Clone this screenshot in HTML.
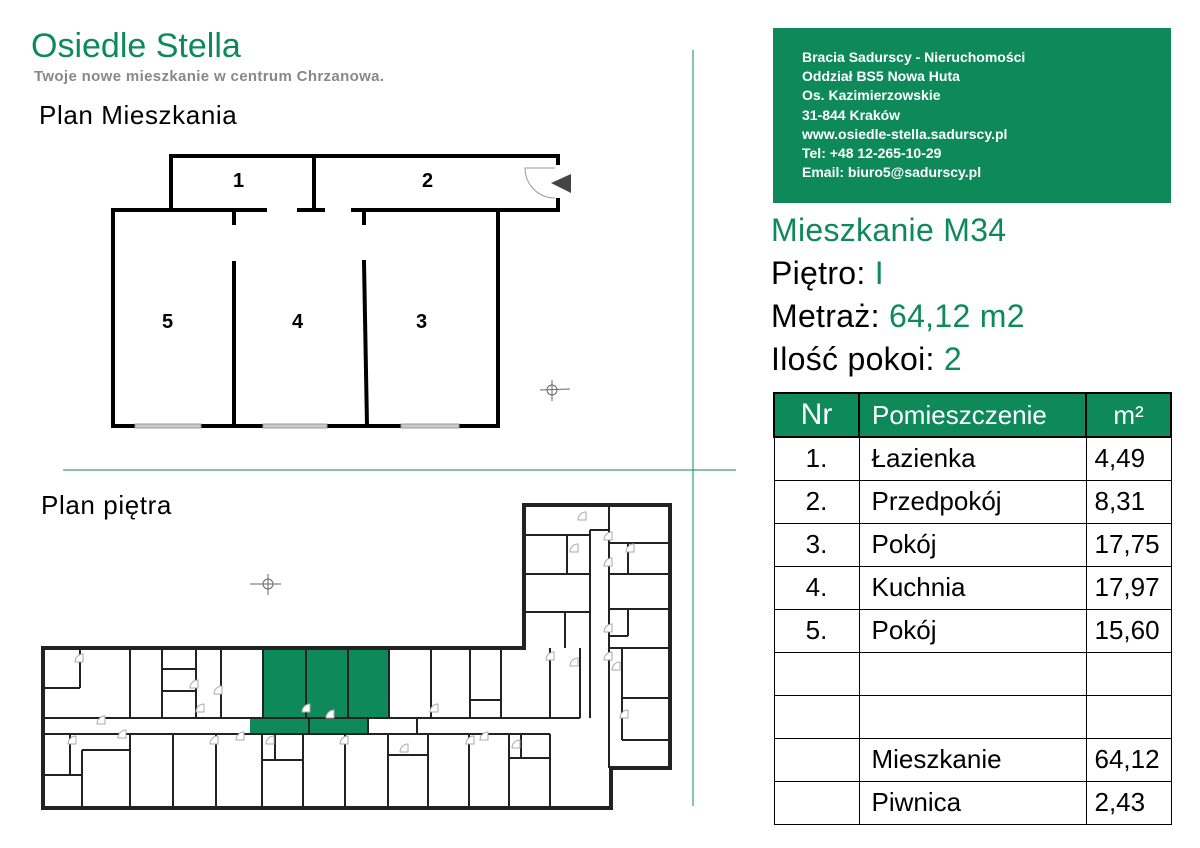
<!DOCTYPE html>
<html><head><meta charset="utf-8"><style>
body{margin:0;width:1200px;height:848px;background:#fff;position:relative;overflow:hidden;font-family:"Liberation Sans",sans-serif}
.t{position:absolute;white-space:nowrap}
.g{color:#0e8a5a}
.n{font-weight:bold}
</style></head><body>
<svg width="1200" height="848" style="position:absolute;left:0;top:0">
<line x1="693" y1="50" x2="693" y2="806" stroke="#0e8a5a" stroke-width="1"/>
<line x1="63" y1="470" x2="736" y2="470" stroke="#0e8a5a" stroke-width="1"/>
<g stroke="#000" stroke-width="4" fill="none" stroke-linecap="square">
<path d="M171,210 V156 H558 V163"/>
<line x1="558" y1="200" x2="558" y2="210"/>
<line x1="314" y1="156" x2="314" y2="210"/>
<path d="M265,210 H113 V426 H498 V210 H353"/>
<line x1="299" y1="210" x2="323" y2="210"/>
<line x1="498" y1="210" x2="558" y2="210"/>
<line x1="234" y1="210" x2="234" y2="223"/>
<line x1="234" y1="263" x2="234" y2="426"/>
<line x1="364" y1="210" x2="364" y2="223"/>
<line x1="364" y1="262" x2="367" y2="426"/>
</g>
<g fill="#ccc" stroke="#999" stroke-width="1">
<rect x="135" y="424" width="66" height="4"/><rect x="263" y="424" width="64" height="4"/><rect x="401" y="424" width="58" height="4"/>
</g>
<path d="M555,168 H525 A30,30 0 0 0 555,198" fill="none" stroke="#999" stroke-width="1"/>
<polygon points="551,183 571,174 571,193" fill="#444"/>
<g stroke="#666" stroke-width="1" fill="none"><circle cx="552" cy="390" r="5"/><line x1="540" y1="390" x2="570" y2="389"/><line x1="552" y1="380" x2="552" y2="401"/></g>
<g stroke="#666" stroke-width="1" fill="none"><circle cx="268" cy="584" r="5"/><line x1="250" y1="584" x2="281" y2="584"/><line x1="268" y1="574" x2="268" y2="595"/></g>
<rect x="263" y="648" width="126" height="70" fill="#0e8a5a"/>
<rect x="250" y="718" width="118" height="16" fill="#0e8a5a"/>
<g stroke="#222" stroke-width="4" fill="none">
<path d="M43,648 H524 V505 H670 V768 H611 V808 H43 Z"/>
</g>
<g stroke="#222" stroke-width="2" fill="none">
<line x1="43" y1="718" x2="580" y2="718"/>
<line x1="43" y1="734" x2="550" y2="734"/>
<line x1="580" y1="718" x2="580" y2="648"/>
<line x1="550" y1="734" x2="550" y2="808"/>
<line x1="590" y1="530" x2="590" y2="718"/>
<line x1="609" y1="530" x2="609" y2="768"/>
<line x1="590" y1="530" x2="609" y2="530"/>
<line x1="80" y1="648" x2="80" y2="688"/><line x1="43" y1="688" x2="80" y2="688"/>
<line x1="130" y1="648" x2="130" y2="718"/>
<line x1="162" y1="648" x2="162" y2="718"/>
<line x1="162" y1="691" x2="196" y2="691"/><line x1="162" y1="669" x2="196" y2="669"/>
<line x1="196" y1="648" x2="196" y2="718"/>
<line x1="221" y1="648" x2="221" y2="718"/>
<line x1="263" y1="648" x2="263" y2="718"/>
<line x1="306" y1="648" x2="306" y2="718"/>
<line x1="348" y1="648" x2="348" y2="718"/>
<line x1="389" y1="648" x2="389" y2="718"/>
<line x1="431" y1="648" x2="431" y2="718"/>
<line x1="470" y1="648" x2="470" y2="718"/><line x1="470" y1="700" x2="501" y2="700"/>
<line x1="501" y1="648" x2="501" y2="718"/>
<line x1="550" y1="648" x2="550" y2="718"/>
<line x1="309" y1="718" x2="309" y2="734"/>
<line x1="368" y1="718" x2="368" y2="734"/>
<line x1="417" y1="718" x2="417" y2="734"/>
<line x1="70" y1="734" x2="70" y2="775"/><line x1="43" y1="775" x2="82" y2="775"/>
<line x1="82" y1="750" x2="82" y2="808"/><line x1="82" y1="750" x2="130" y2="750"/>
<line x1="130" y1="734" x2="130" y2="808"/>
<line x1="173" y1="734" x2="173" y2="808"/>
<line x1="216" y1="734" x2="216" y2="808"/>
<line x1="262" y1="734" x2="262" y2="808"/>
<line x1="262" y1="760" x2="303" y2="760"/>
<line x1="275" y1="734" x2="275" y2="760"/>
<line x1="303" y1="734" x2="303" y2="808"/>
<line x1="345" y1="734" x2="345" y2="808"/>
<line x1="388" y1="734" x2="388" y2="808"/>
<line x1="388" y1="755" x2="428" y2="755"/>
<line x1="428" y1="734" x2="428" y2="808"/>
<line x1="469" y1="734" x2="469" y2="808"/>
<line x1="509" y1="734" x2="509" y2="808"/>
<line x1="521" y1="734" x2="521" y2="758"/><line x1="509" y1="758" x2="550" y2="758"/>
<line x1="524" y1="535" x2="590" y2="535"/>
<line x1="524" y1="574" x2="590" y2="574"/>
<line x1="524" y1="612" x2="590" y2="612"/>
<line x1="567" y1="535" x2="567" y2="574"/>
<line x1="565" y1="612" x2="565" y2="648"/>
<line x1="609" y1="505" x2="609" y2="530"/>
<line x1="609" y1="543" x2="670" y2="543"/>
<line x1="628" y1="543" x2="628" y2="574"/>
<line x1="609" y1="574" x2="670" y2="574"/>
<line x1="609" y1="609" x2="670" y2="609"/>
<line x1="628" y1="609" x2="628" y2="636"/><line x1="609" y1="636" x2="628" y2="636"/>
<line x1="609" y1="648" x2="670" y2="648"/>
<line x1="622" y1="648" x2="622" y2="740"/>
<line x1="622" y1="698" x2="670" y2="698"/>
<line x1="622" y1="740" x2="670" y2="740"/>
</g>
<g fill="#fff" stroke="#aaa" stroke-width="1">
<path d="M75,662 a8,8 0 0 1 8,-8 v8 z"/><path d="M190,688 a8,8 0 0 1 8,-8 v8z"/><path d="M214,694 a8,8 0 0 1 8,-8 v8z"/>
<path d="M97,724 a8,8 0 0 1 8,-8 v8z"/><path d="M118,738 a8,8 0 0 1 8,-8 v8z"/><path d="M68,744 a8,8 0 0 1 8,-8 v8z"/>
<path d="M196,712 a8,8 0 0 1 8,-8 v8z"/><path d="M210,744 a8,8 0 0 1 8,-8 v8z"/><path d="M236,740 a8,8 0 0 1 8,-8 v8z"/>
<path d="M302,712 a8,8 0 0 1 8,-8 v8z"/><path d="M326,718 a8,8 0 0 1 8,-8 v8z"/><path d="M266,744 a8,8 0 0 1 8,-8 v8z"/>
<path d="M340,744 a8,8 0 0 1 8,-8 v8z"/><path d="M400,752 a8,8 0 0 1 8,-8 v8z"/><path d="M430,712 a8,8 0 0 1 8,-8 v8z"/>
<path d="M466,744 a8,8 0 0 1 8,-8 v8z"/><path d="M480,740 a8,8 0 0 1 8,-8 v8z"/><path d="M512,748 a8,8 0 0 1 8,-8 v8z"/>
<path d="M546,660 a8,8 0 0 1 8,-8 v8z"/><path d="M570,666 a8,8 0 0 1 8,-8 v8z"/><path d="M604,660 a8,8 0 0 1 8,-8 v8z"/>
<path d="M578,520 a8,8 0 0 1 8,-8 v8z"/><path d="M570,552 a8,8 0 0 1 8,-8 v8z"/><path d="M604,540 a8,8 0 0 1 8,-8 v8z"/>
<path d="M626,552 a8,8 0 0 1 8,-8 v8z"/><path d="M604,566 a8,8 0 0 1 8,-8 v8z"/><path d="M604,632 a8,8 0 0 1 8,-8 v8z"/>
<path d="M620,718 a8,8 0 0 1 8,-8 v8z"/><path d="M612,670 a8,8 0 0 1 8,-8 v8z"/>
</g>
</svg>

<div class="t g" style="left:31px;top:27px;font-size:34px">Osiedle Stella</div>
<div class="t" style="left:34px;top:68px;font-size:15px;font-weight:bold;color:#888;letter-spacing:0.35px">Twoje nowe mieszkanie w centrum Chrzanowa.</div>
<div class="t" style="left:39px;top:100px;font-size:26px;letter-spacing:0.6px">Plan Mieszkania</div>
<div class="t" style="left:41px;top:490px;font-size:26px;letter-spacing:0.6px">Plan piętra</div>
<div class="t n" style="left:233px;top:170px;font-size:20px">1</div>
<div class="t n" style="left:422px;top:170px;font-size:20px">2</div>
<div class="t n" style="left:162px;top:311px;font-size:20px">5</div>
<div class="t n" style="left:292px;top:311px;font-size:20px">4</div>
<div class="t n" style="left:416px;top:311px;font-size:20px">3</div>

<div style="position:absolute;left:773px;top:28px;width:398px;height:175px;background:#0e8a5a;color:#fff;font-size:14px;font-weight:bold;line-height:19.2px">
<div style="position:absolute;left:29px;top:20px">Bracia Sadurscy - Nieruchomości<br>Oddział BS5 Nowa Huta<br>Os. Kazimierzowskie<br>31-844 Kraków<br>www.osiedle-stella.sadurscy.pl<br>Tel: +48 12-265-10-29<br>Email: biuro5@sadurscy.pl</div></div>
<div class="t g" style="left:771px;top:212px;font-size:32px;letter-spacing:0.3px">Mieszkanie M34</div>
<div class="t" style="left:771px;top:255px;font-size:32px;letter-spacing:0.3px">Piętro: <span class="g">I</span></div>
<div class="t" style="left:771px;top:298px;font-size:32px;letter-spacing:0.3px">Metraż: <span class="g">64,12 m2</span></div>
<div class="t" style="left:771px;top:341px;font-size:32px;letter-spacing:0.3px">Ilość pokoi: <span class="g">2</span></div>

<table style="position:absolute;left:773px;top:392px;border-collapse:collapse;font-size:26px">
<colgroup><col style="width:85px"><col style="width:227px"><col style="width:85px"></colgroup>
<tr style="height:44px;background:#0e8a5a;color:#fff"><td style="border:2px solid #000;text-align:center;font-size:30px">Nr</td><td style="border:2px solid #000;padding-left:12px">Pomieszczenie</td><td style="border:2px solid #000;text-align:center">m²</td></tr>
<tr style="height:43px"><td style="border:1px solid #000;text-align:center">1.</td><td style="border:1px solid #000;padding-left:12px">Łazienka</td><td style="border:1px solid #000;padding-left:8px">4,49</td></tr>
<tr style="height:43px"><td style="border:1px solid #000;text-align:center">2.</td><td style="border:1px solid #000;padding-left:12px">Przedpokój</td><td style="border:1px solid #000;padding-left:8px">8,31</td></tr>
<tr style="height:43px"><td style="border:1px solid #000;text-align:center">3.</td><td style="border:1px solid #000;padding-left:12px">Pokój</td><td style="border:1px solid #000;padding-left:8px">17,75</td></tr>
<tr style="height:43px"><td style="border:1px solid #000;text-align:center">4.</td><td style="border:1px solid #000;padding-left:12px">Kuchnia</td><td style="border:1px solid #000;padding-left:8px">17,97</td></tr>
<tr style="height:43px"><td style="border:1px solid #000;text-align:center">5.</td><td style="border:1px solid #000;padding-left:12px">Pokój</td><td style="border:1px solid #000;padding-left:8px">15,60</td></tr>
<tr style="height:43px"><td style="border:1px solid #000"></td><td style="border:1px solid #000"></td><td style="border:1px solid #000"></td></tr>
<tr style="height:43px"><td style="border:1px solid #000"></td><td style="border:1px solid #000"></td><td style="border:1px solid #000"></td></tr>
<tr style="height:43px"><td style="border:1px solid #000"></td><td style="border:1px solid #000;padding-left:12px">Mieszkanie</td><td style="border:1px solid #000;padding-left:8px">64,12</td></tr>
<tr style="height:43px"><td style="border:1px solid #000"></td><td style="border:1px solid #000;padding-left:12px">Piwnica</td><td style="border:1px solid #000;padding-left:8px">2,43</td></tr>
</table>
</body></html>
